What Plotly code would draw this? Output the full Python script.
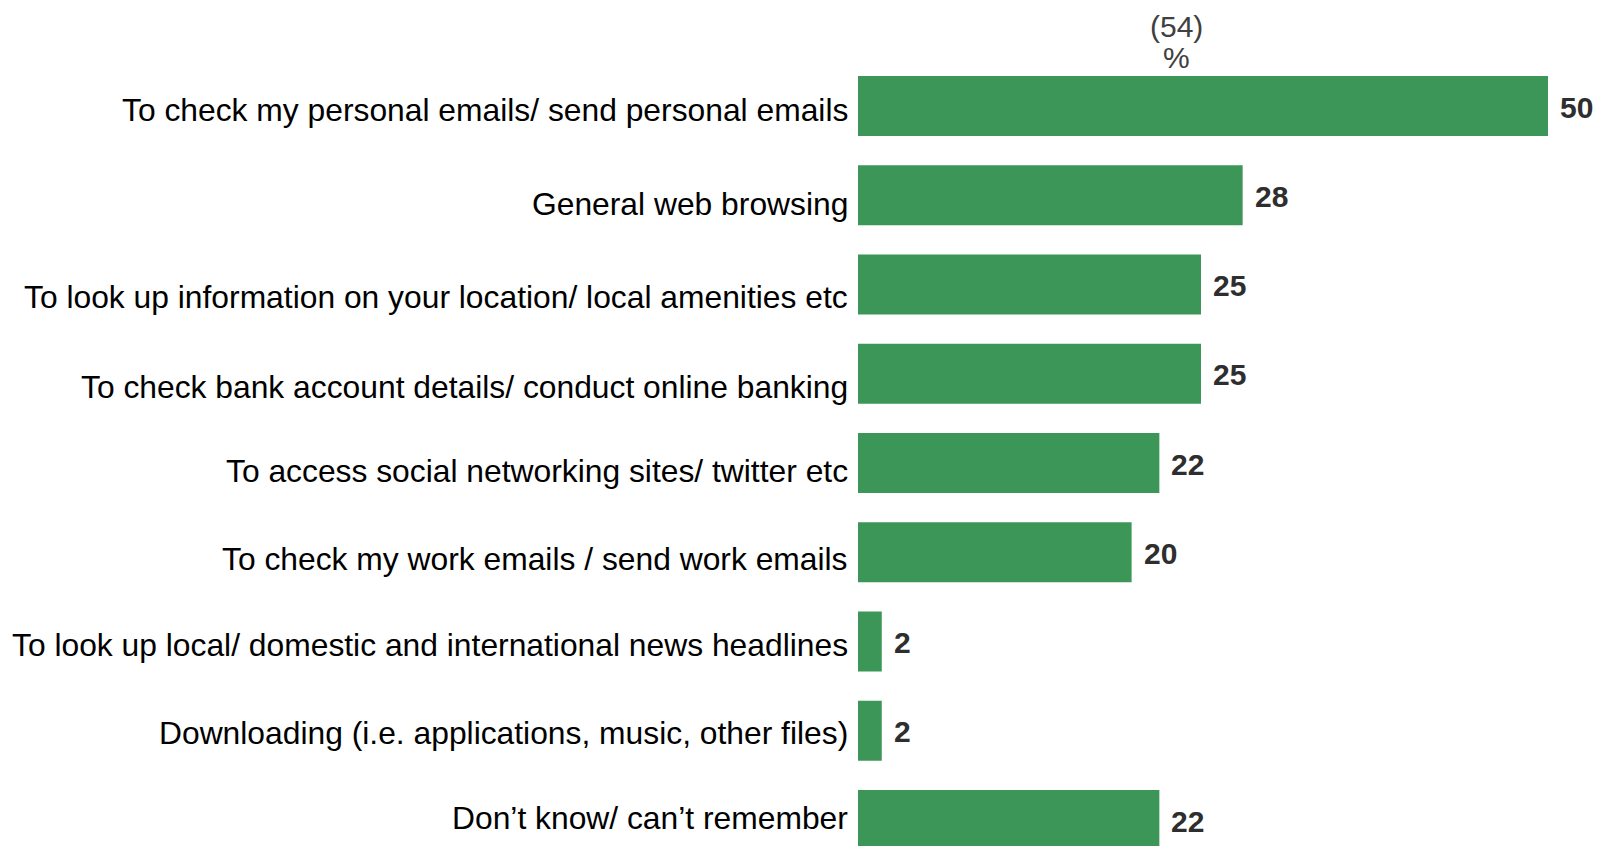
import plotly.graph_objects as go

# Survey responses: reasons for using the internet (% of respondents)
categories = [
    "To check my personal emails/ send personal emails",
    "General web browsing",
    "To look up information on your location/ local amenities etc",
    "To check bank account details/ conduct online banking",
    "To access social networking sites/ twitter etc",
    "To check my work emails / send work emails",
    "To look up local/ domestic and international news headlines",
    "Downloading (i.e. applications, music, other files)",
    "Don\u2019t know/ can\u2019t remember",
]
values = [50, 28, 25, 25, 22, 20, 2, 2, 22]
base_label = "(54)"
unit_label = "%"

# layout constants (pixels)
W, H = 1597, 846
LEFT = 854            # x = 0 of the value axis
GAP = 4               # white gap between axis and bars
PX_PER_UNIT = 13.88
ROW = 89.25
FIRST_CENTER = 106
# small vertical nudges (px, downward) for the category labels
label_nudge = [4, 9, 12, 13, 8, 7, 3, 2, -2]

FONT = "Liberation Sans, Arial, sans-serif"
GREEN = "#3c9657"

positions = list(range(len(categories)))
y_top = -FIRST_CENTER / ROW
y_bottom = y_top + H / ROW

fig = go.Figure(
    go.Bar(
        x=values,
        y=positions,
        orientation="h",
        marker=dict(color=GREEN, line=dict(width=0)),
        width=60 / ROW,
        hoverinfo="skip",
    )
)

annotations = []
for pos, v, name, dy in zip(positions, values, categories, label_nudge):
    annotations.append(dict(
        x=v, y=pos, xref="x", yref="y",
        text=f"<b>{v}</b>", showarrow=False,
        xanchor="left", yanchor="middle", xshift=10, yshift=-1,
        font=dict(family=FONT, size=30, color="#2e2e2e"),
    ))
    annotations.append(dict(
        x=0, y=pos, xref="x", yref="y",
        text=name, showarrow=False,
        xanchor="right", yanchor="middle", xshift=-4, yshift=-dy,
        font=dict(family=FONT, size=31.8, color="#000000"),
    ))

head_x = (1176 - LEFT) / (W - LEFT)
annotations.append(dict(
    x=head_x, y=1 - 26 / H, xref="paper", yref="paper",
    text=base_label, showarrow=False, xanchor="center", yanchor="middle",
    font=dict(family=FONT, size=30, color="#404040"),
))
annotations.append(dict(
    x=head_x, y=1 - 57 / H, xref="paper", yref="paper",
    text=unit_label, showarrow=False, xanchor="center", yanchor="middle",
    font=dict(family=FONT, size=30, color="#404040"),
))

fig.update_layout(
    width=W, height=H,
    margin=dict(l=LEFT, r=0, t=0, b=0),
    paper_bgcolor="white", plot_bgcolor="white",
    showlegend=False,
    annotations=annotations,
    shapes=[dict(
        type="rect", xref="x", xsizemode="pixel", xanchor=0, x0=0, x1=GAP,
        yref="paper", y0=0, y1=1, fillcolor="white", line=dict(width=0),
        layer="above",
    )],
    xaxis=dict(
        range=[0, (W - LEFT) / PX_PER_UNIT],
        visible=False, fixedrange=True,
    ),
    yaxis=dict(
        range=[y_bottom, y_top],
        showticklabels=False,
        showgrid=False, zeroline=False, showline=False, ticks="",
        fixedrange=True,
    ),
)

fig.write_html("out.html")
